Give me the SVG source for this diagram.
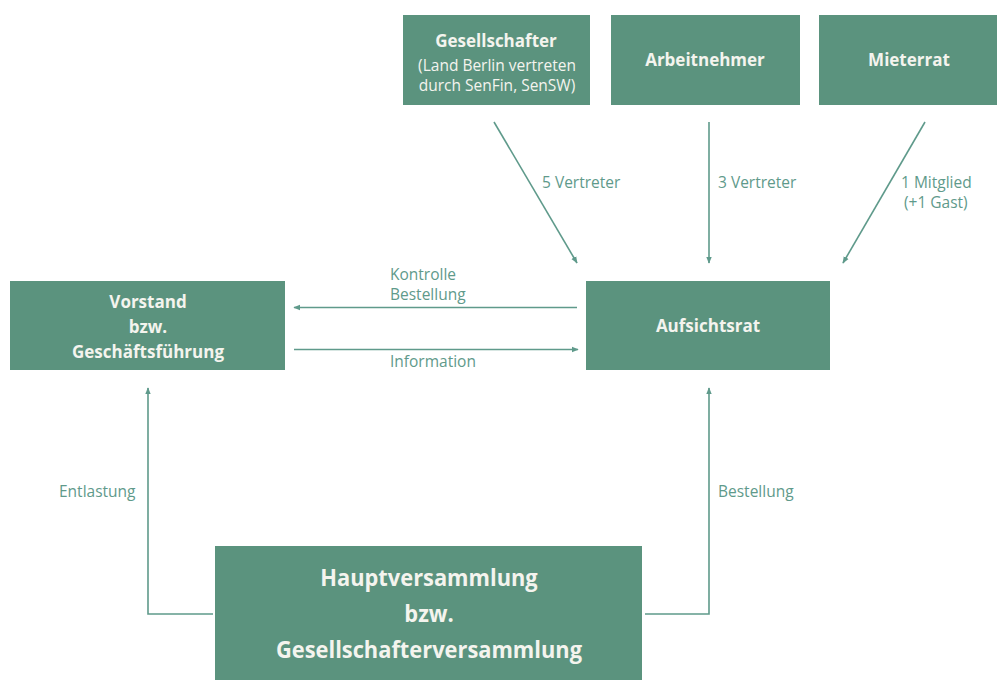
<svg xmlns="http://www.w3.org/2000/svg" width="997" height="680" viewBox="0 0 997 680">
<style>
.box{fill:#5b937e}
.t{font-family:"Open Sans","Noto Sans",sans-serif;fill:#f4f4ee;text-anchor:middle}
.b{font-weight:bold}
.lbl{font-family:"Open Sans","Noto Sans",sans-serif;fill:#5f9a8b;font-size:15.5px}
.c{stroke:#5f9a8b;stroke-width:1.6;fill:none}
</style>
<defs>
<marker id="ah" viewBox="0 0 10 10" refX="9" refY="5" markerWidth="7" markerHeight="7" orient="auto" markerUnits="userSpaceOnUse">
<path d="M0,1 L10,5 L0,9 z" fill="#5f9a8b"/>
</marker>
</defs>
<rect width="997" height="680" fill="#fff"/>
<g id="gesellschafter">
<rect class="box" x="403" y="15" width="187" height="90"/>
<text class="t b" x="496" y="47" font-size="17">Gesellschafter</text>
<text class="t" x="497" y="71" font-size="15.5">(Land Berlin vertreten</text>
<text class="t" x="497" y="91" font-size="15.5">durch SenFin, SenSW)</text>
</g>
<g id="arbeitnehmer">
<rect class="box" x="611" y="15" width="189" height="90"/>
<text class="t b" x="705" y="66" font-size="17">Arbeitnehmer</text>
</g>
<g id="mieterrat">
<rect class="box" x="819" y="15" width="178" height="90"/>
<text class="t b" x="909" y="66" font-size="17">Mieterrat</text>
</g>
<g id="vorstand">
<rect class="box" x="10" y="281" width="275" height="89"/>
<text class="t b" x="148" y="308" font-size="17">Vorstand</text>
<text class="t b" x="148" y="333" font-size="17">bzw.</text>
<text class="t b" x="148" y="358" font-size="17">Geschäftsführung</text>
</g>
<g id="aufsichtsrat">
<rect class="box" x="586" y="281" width="244" height="89"/>
<text class="t b" x="708" y="332" font-size="17">Aufsichtsrat</text>
</g>
<g id="hauptversammlung">
<rect class="box" x="215" y="546" width="427" height="134"/>
<text class="t b" font-size="24" transform="translate(429,586) scale(0.91,1)">Hauptversammlung</text>
<text class="t b" font-size="24" transform="translate(429,622) scale(0.91,1)">bzw.</text>
<text class="t b" font-size="24" transform="translate(429,658) scale(0.91,1)">Gesellschafterversammlung</text>
</g>
<g id="connectors">
<line class="c" x1="494" y1="122" x2="577" y2="263" marker-end="url(#ah)"/>
<line class="c" x1="709" y1="122" x2="709" y2="263" marker-end="url(#ah)"/>
<line class="c" x1="925" y1="122" x2="843" y2="263" marker-end="url(#ah)"/>
<line class="c" x1="577" y1="307.5" x2="294" y2="307.5" marker-end="url(#ah)"/>
<line class="c" x1="294" y1="349.5" x2="578" y2="349.5" marker-end="url(#ah)"/>
<polyline class="c" points="213,614 148,614 148,388" marker-end="url(#ah)"/>
<polyline class="c" points="645,614 709,614 709,388" marker-end="url(#ah)"/>
</g>
<g id="labels">
<text class="lbl" x="542" y="188">5 Vertreter</text>
<text class="lbl" x="718" y="188">3 Vertreter</text>
<text class="lbl" x="901" y="188">1 Mitglied</text>
<text class="lbl" x="904" y="208">(+1 Gast)</text>
<text class="lbl" x="390" y="280">Kontrolle</text>
<text class="lbl" x="390" y="300">Bestellung</text>
<text class="lbl" x="390" y="367">Information</text>
<text class="lbl" x="59" y="497">Entlastung</text>
<text class="lbl" x="718" y="497">Bestellung</text>
</g>
</svg>
